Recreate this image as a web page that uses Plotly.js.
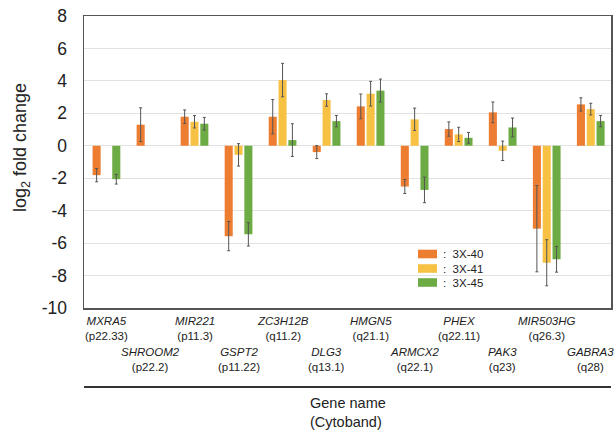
<!DOCTYPE html>
<html>
<head>
<meta charset="utf-8">
<script src="https://cdn.plot.ly/plotly-3.0.1.min.js"></script>
<style>html,body{margin:0;padding:0;background:#fff;}#chart{width:614px;height:431px;}</style>
</head>
<body>
<div id="chart"></div>
<script>
const genes = ['MXRA5','SHROOM2','MIR221','GSPT2','ZC3H12B','DLG3','HMGN5','ARMCX2','PHEX','PAK3','MIR503HG','GABRA3'];
const bands = ['p22.33','p22.2','p11.3','p11.22','q11.2','q13.1','q21.1','q22.1','q22.11','q23','q26.3','q28'];
const seriesNames = ['3X-40','3X-41','3X-45'];
const v40 = [-1.81, 1.30, 1.79, -5.57, 1.79, -0.39, 2.43, -2.51, 1.03, 2.06, -5.11, 2.55];
const e40 = [0.41, 1.04, 0.42, 0.90, 1.06, 0.40, 0.76, 0.43, 0.44, 0.64, 2.66, 0.41];
const v41 = [null, null, 1.48, -0.56, 4.05, 2.82, 3.21, 1.63, 0.70, -0.31, -7.21, 2.26];
const e41 = [null, null, 0.38, 0.69, 1.03, 0.38, 0.76, 0.69, 0.44, 0.60, 1.42, 0.36];
const v45 = [-2.06, null, 1.36, -5.46, 0.35, 1.52, 3.40, -2.72, 0.49, 1.13, -7.00, 1.52];
const e45 = [0.30, null, 0.39, 0.72, 1.01, 0.35, 0.71, 0.79, 0.33, 0.58, 0.79, 0.35];
const yTickVals = [8, 6, 4, 2, 0, -2, -4, -6, -8, -10];
const yTickText = ['8', '6', '4', '2', '0', '-2', '-4', '-6', '-8', '-10'];
const colors = ['#ED7D31', '#F7C243', '#6DAB45'];

const FONT = 'Liberation Sans, Arial, Helvetica, sans-serif';
const vals = [v40, v41, v45];
const errs = [e40, e41, e45];

const traces = vals.map((v, i) => ({
  type: 'bar',
  name: seriesNames[i],
  x: genes,
  y: v,
  marker: {color: colors[i], line: {width: 0}},
  error_y: {type: 'data', array: errs[i], visible: true, color: '#555', thickness: 1, width: 1.5},
  showlegend: false,
  hoverinfo: 'x+y+name'
}));

// plot area pixels: top 16, bottom 308 (height 292), left 84, right 611 (width 527)
const H = 292, W = 527;
const annotations = [];
genes.forEach((g, i) => {
  annotations.push({
    x: g, xref: 'x', y: 0, yref: 'paper',
    yanchor: 'middle', xanchor: 'center',
    yshift: (i % 2 === 0) ? -20 : -51,
    text: '<i>' + g + '</i><br>(' + bands[i] + ')',
    showarrow: false, align: 'center',
    font: {family: FONT, size: 11.5, color: '#222'}
  });
});
annotations.push({
  x: (21 - 84) / W, xref: 'paper', y: (308 - 148) / H, yref: 'paper',
  xanchor: 'center', yanchor: 'middle', textangle: -90,
  text: 'log<sub>2</sub> fold change', showarrow: false,
  font: {family: FONT, size: 18, color: '#222'}
});
annotations.push({
  x: 0.5, xref: 'paper', y: 0, yref: 'paper',
  xanchor: 'center', yanchor: 'middle', yshift: -104,
  text: 'Gene name<br>(Cytoband)', showarrow: false, align: 'left',
  font: {family: FONT, size: 14.5, color: '#222'}
});

const shapes = [{
  type: 'line', xref: 'paper', yref: 'paper',
  x0: 0, x1: 1, y0: (308 - 387) / H, y1: (308 - 387) / H,
  line: {color: '#333', width: 2}
}];
const legendRows = [254, 268.5, 282.5];
seriesNames.forEach((n, i) => {
  const yc = legendRows[i];
  shapes.push({
    type: 'rect', xref: 'paper', yref: 'paper',
    x0: (418 - 84) / W, x1: (437 - 84) / W,
    y0: (308 - (yc - 4.3)) / H, y1: (308 - (yc + 4.3)) / H,
    fillcolor: colors[i], line: {width: 0}
  });
  annotations.push({
    x: (441 - 84) / W, xref: 'paper', y: (308 - yc) / H, yref: 'paper',
    xanchor: 'left', yanchor: 'middle', showarrow: false,
    text: ':  ' + n, font: {family: FONT, size: 11.5, color: '#222'}
  });
});

const layout = {
  width: 614, height: 431,
  margin: {l: 84, r: 3, t: 16, b: 123, pad: 0},
  paper_bgcolor: '#fff', plot_bgcolor: '#fff',
  barmode: 'group', bargap: 0.33, bargroupgap: 0.18,
  showlegend: false,
  xaxis: {
    type: 'category', range: [-0.51, 11.46],
    showticklabels: false, ticks: '', showgrid: false, zeroline: false,
    showline: true, mirror: true, linecolor: '#555', linewidth: 1.5
  },
  yaxis: {
    range: [-10, 8], tickmode: 'array', tickvals: yTickVals, ticktext: yTickText,
    showgrid: true, gridcolor: '#e2e2e2', gridwidth: 1,
    zeroline: true, zerolinecolor: '#e2e2e2', zerolinewidth: 1,
    showline: true, mirror: true, linecolor: '#555', linewidth: 1.5,
    ticks: '', ticklabelstandoff: 12,
    tickfont: {family: FONT, size: 17.5, color: '#222'}
  },
  annotations: annotations,
  shapes: shapes
};

Plotly.newPlot('chart', traces, layout, {displayModeBar: false, staticPlot: true});
</script>
</body>
</html>
